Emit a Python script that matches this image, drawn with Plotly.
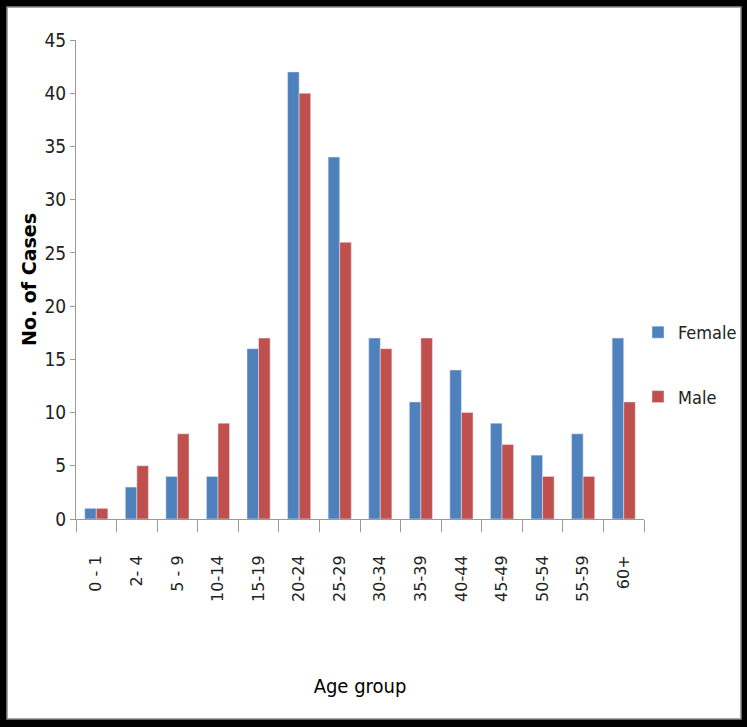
import plotly.graph_objects as go

categories = ["0 - 1", "2- 4", "5 - 9", "10-14", "15-19", "20-24", "25-29",
              "30-34", "35-39", "40-44", "45-49", "50-54", "55-59", "60+"]
female = [1, 3, 4, 4, 16, 42, 34, 17, 11, 14, 9, 6, 8, 17]
male = [1, 5, 8, 9, 17, 40, 26, 16, 17, 10, 7, 4, 4, 11]

W, H = 747, 727
L, R, T, B = 76, 103, 40, 208
pw, ph = W - L - R, H - T - B

def px(x):
    return (x - L) / pw

def py(y):
    return (H - B - y) / ph

narrow = "'Liberation Sans Narrow', 'DejaVu Sans Condensed', 'Roboto Condensed', 'Liberation Sans', sans-serif"
wide = "'DejaVu Sans', Verdana, sans-serif"

fig = go.Figure()
fig.add_trace(go.Bar(x=categories, y=female, name="Female", marker_color="#4F81BD",
                     legendgroup="f"))
fig.add_trace(go.Bar(x=categories, y=male, name="Male", marker_color="#C0504D",
                     legendgroup="m"))

fig.update_layout(
    width=W, height=H,
    margin=dict(l=L, r=R, t=T, b=B, pad=0, autoexpand=False),
    paper_bgcolor="black",
    plot_bgcolor="rgba(0,0,0,0)",
    barmode="group",
    bargap=0.43,
    bargroupgap=0,
    showlegend=True,
    legend=dict(x=px(638), y=py(314), xanchor="left", yanchor="top",
                tracegroupgap=38, bgcolor="rgba(0,0,0,0)",
                font=dict(family=narrow, size=18, color="#222"),
                itemwidth=30),
    shapes=[
        dict(type="rect", xref="paper", yref="paper", layer="below",
             x0=px(7), x1=px(741), y0=py(719), y1=py(7),
             fillcolor="white", line=dict(color="#8a8a8a", width=1.5)),
    ],
    xaxis=dict(
        showline=True, linecolor="#9a9a9a", linewidth=1,
        ticks="outside", tickson="boundaries", ticklen=12, tickcolor="#9a9a9a",
        tickangle=-90, ticklabelstandoff=29,
        tickfont=dict(family=wide, size=16, color="#222"),
        title=dict(text="Age group", standoff=78,
                   font=dict(family=narrow, size=20, color="black")),
        showgrid=False,
    ),
    yaxis=dict(
        range=[0, 45], dtick=5,
        showline=True, linecolor="#9a9a9a", linewidth=1,
        ticks="outside", ticklen=5, tickcolor="#9a9a9a",
        tickfont=dict(family=narrow, size=19, color="#222"),
        showgrid=False, zeroline=False,
        title=dict(text="<b>No. of Cases</b>", standoff=2,
                   font=dict(family=wide, size=19, color="black")),
    ),
)

fig.write_html("out.html", config={"displayModeBar": False},
               post_script="document.body.style.margin='0';document.body.style.padding='0';")
